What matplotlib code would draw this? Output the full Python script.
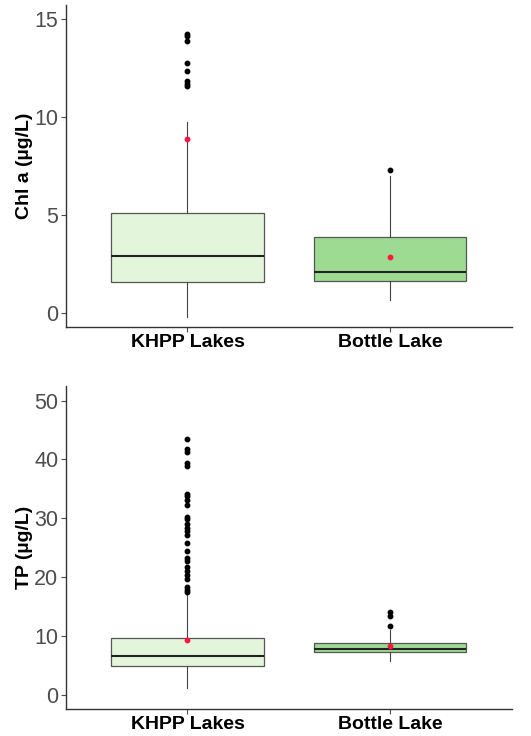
"""Chl a and TP box plots, KHPP lakes vs Bottle Lake."""

import matplotlib
matplotlib.use("Agg")
import matplotlib.pyplot as plt  # noqa: E402

plt.rcParams["font.family"] = ["Liberation Sans", "DejaVu Sans"]

groups = ["KHPP Lakes", "Bottle Lake"]

# Chl a (ug/L) box stats
chl_q1 = [1.58, 1.6]
chl_med = [2.9, 2.1]
chl_q3 = [5.1, 3.85]
chl_lo = [-0.2, 0.65]
chl_hi = [9.75, 7.0]
chl_mean = [8.85, 2.85]
chl_out = [
    [14.25, 14.1, 13.85, 12.75, 12.35, 11.85, 11.7, 11.55],
    [7.3],
]

# TP (ug/L) box stats
tp_q1 = [4.8, 7.25]
tp_med = [6.6, 7.75]
tp_q3 = [9.6, 8.8]
tp_lo = [1.1, 5.8]
tp_hi = [17.0, 11.0]
tp_mean = [9.3, 8.2]
tp_out = [
    [43.5, 41.7, 41.3, 39.3, 38.9, 34.1, 33.7, 33.1, 32.2, 30.2, 29.9,
     29.0, 28.4, 27.8, 27.2, 25.8, 24.5, 23.3, 22.8, 21.7, 21.1, 20.3,
     19.7, 18.3, 17.8, 17.5],
    [14.0, 13.3, 11.7],
]

fills = ["#e3f6dc", "#9ddb93"]


def panel(ax, q1, med, q3, lo, hi, mean, out, ylabel, ylim, yticks):
    stats = []
    for i in range(len(groups)):
        stats.append(dict(q1=q1[i], med=med[i], q3=q3[i], whislo=lo[i],
                          whishi=hi[i], fliers=out[i], mean=mean[i]))
    bp = ax.bxp(stats, positions=[1, 2], widths=0.75, patch_artist=True,
                showcaps=False, showmeans=True,
                boxprops=dict(edgecolor="#555555", linewidth=0.9),
                medianprops=dict(color="#222222", linewidth=1.5),
                whiskerprops=dict(color="#444444", linewidth=0.8),
                flierprops=dict(marker="o", markersize=3.2,
                                markerfacecolor="black",
                                markeredgecolor="black"),
                meanprops=dict(marker="o", markersize=3.2,
                               markerfacecolor="#ff1744",
                               markeredgecolor="#ff1744"))
    for patch, c in zip(bp["boxes"], fills):
        patch.set_facecolor(c)
    ax.set_xlim(0.4, 2.6)
    ax.set_ylim(*ylim)
    ax.set_yticks(yticks)
    ax.set_xticks([1, 2])
    ax.set_xticklabels(groups, fontsize=14, fontweight="bold", color="black")
    ax.set_ylabel(ylabel, fontsize=14, fontweight="bold", labelpad=1)
    ax.tick_params(axis="y", labelsize=15.5, labelcolor="#4d4d4d",
                   color="#4d4d4d", length=3.5, width=0.8, pad=2)
    ax.tick_params(axis="x", color="#4d4d4d", length=3.5, width=0.8, pad=2)
    for side in ("top", "right"):
        ax.spines[side].set_visible(False)
    for side in ("left", "bottom"):
        ax.spines[side].set_color("#333333")
        ax.spines[side].set_linewidth(1.0)


fig = plt.figure(figsize=(5.31, 7.36), dpi=100)
ax1 = fig.add_axes([0.124, 0.556, 0.840, 0.437])
ax2 = fig.add_axes([0.124, 0.037, 0.840, 0.438])

panel(ax1, chl_q1, chl_med, chl_q3, chl_lo, chl_hi, chl_mean, chl_out,
      "Chl a (µg/L)", (-0.72, 15.7), [0, 5, 10, 15])
panel(ax2, tp_q1, tp_med, tp_q3, tp_lo, tp_hi, tp_mean, tp_out,
      "TP (µg/L)", (-2.4, 52.4), [0, 10, 20, 30, 40, 50])

fig.savefig("out.png", dpi=100)
